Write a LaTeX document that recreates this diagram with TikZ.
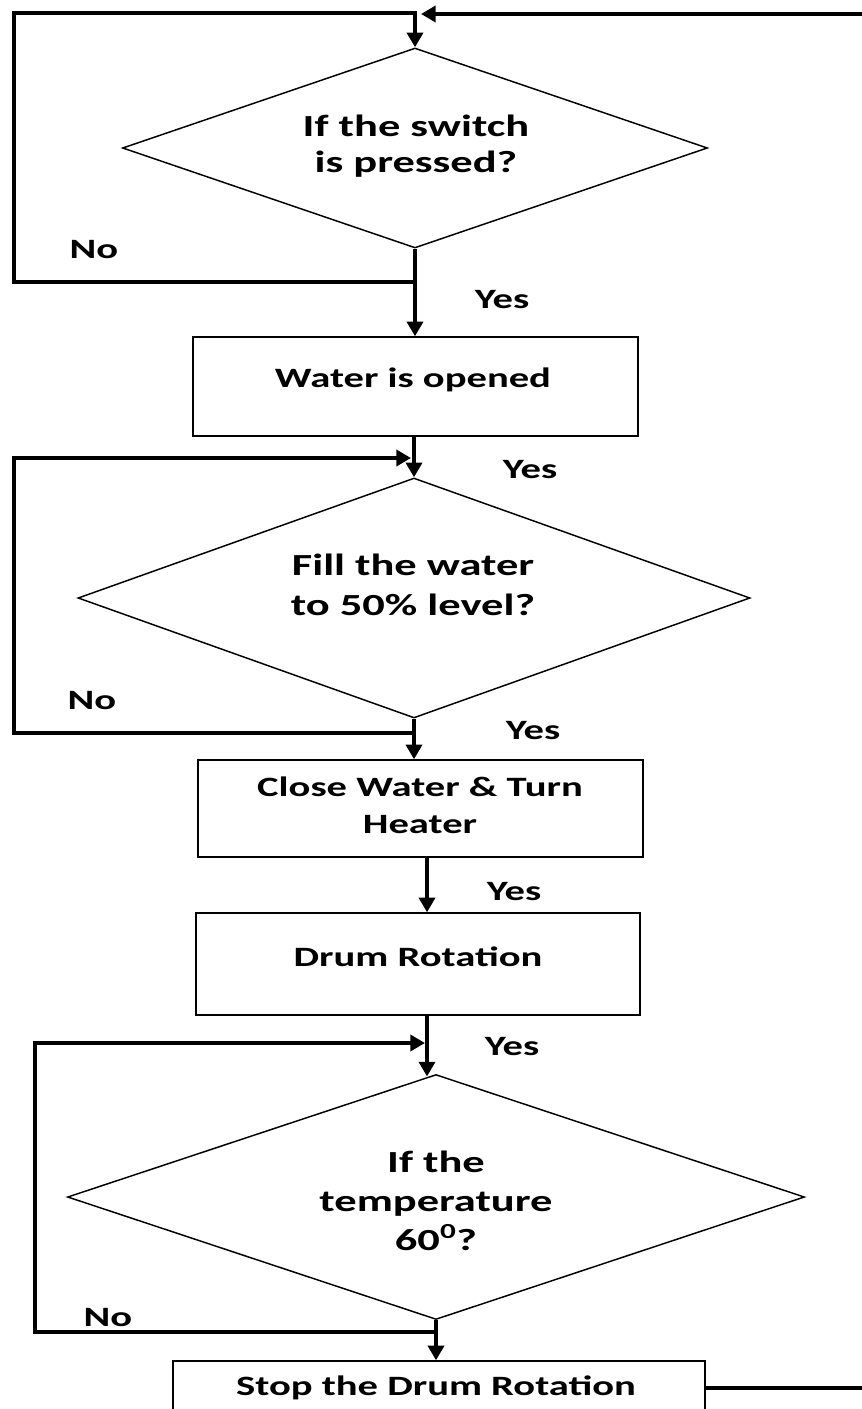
\documentclass[tikz,border=0pt]{standalone}
\usepackage{fontspec}
\newfontfamily\flowfont{Carlito}[FakeStretch=1.45]
\usetikzlibrary{shapes.geometric,arrows.meta}
\begin{document}
\begin{tikzpicture}[x=0.75pt,y=-0.75pt,
  wire/.style={line width=2.8pt},
  flow/.style={wire,-{Triangle[length=11pt,width=12pt]}},
  proc/.style={draw,line width=1.1pt,rectangle,inner sep=0pt},
  cond/.style={draw,line width=1.1pt,diamond,inner sep=0pt},
  txt/.style={align=center,inner sep=0pt,font=\flowfont\bfseries\fontsize{21}{26}\selectfont},
  ctxt/.style={align=center,inner sep=0pt,font=\flowfont\bfseries\fontsize{23}{26}\selectfont},
  lbl/.style={inner sep=0pt,font=\flowfont\bfseries\fontsize{21}{24}\selectfont}]
\useasboundingbox (0,0) rectangle (862,1409);

% shapes
\node[cond,minimum width=438.75pt,minimum height=150pt] (d1) at (415,148) {};
\node[proc,minimum width=333.75pt,minimum height=74.25pt] (b1) at (415.5,386.5) {};
\node[cond,minimum width=504pt,minimum height=180pt] (d2) at (414,598) {};
\node[proc,minimum width=333.75pt,minimum height=72.75pt] (b2) at (420.5,808.5) {};
\node[proc,minimum width=333pt,minimum height=76.5pt] (b3) at (418,964) {};
\node[cond,minimum width=552.75pt,minimum height=183.75pt] (d3) at (436,1197) {};
\node[proc,minimum width=399pt,minimum height=40.5pt] (b4) at (439,1388) {};

% texts
\node[ctxt] (d1t) at (416,146) {If the switch\\[1pt]is pressed?};
\node[txt] (b1t) at (413,380) {Water is opened};
\node[ctxt] (d2t) at (413,585) {Fill the water\\[4pt]to 50\% level?};
\node[txt] (b2t) at (420,805) {Close Water \& Turn\\[2pt]Heater};
\node[txt] (b3t) at (418,957) {Drum Rotation};
\node[ctxt] (d3t) at (436,1201) {If the\\[3pt]temperature\\[3pt]60\textsuperscript{0}?};
\node[txt] (b4t) at (436,1388) {Stop the Drum Rotation};

% branch labels
\node[lbl] (n1) at (94,250) {No};
\node[lbl] (n2) at (92,701) {No};
\node[lbl] (n3) at (108,1318) {No};
\node[lbl] (y1) at (502,300) {Yes};
\node[lbl] (y2) at (530,470) {Yes};
\node[lbl] (y3) at (533,731) {Yes};
\node[lbl] (y4) at (514,892) {Yes};
\node[lbl] (y5) at (512,1047) {Yes};

% loop corners
\coordinate (j1) at (415,282);
\coordinate (l1a) at (14,282);
\coordinate (l1b) at (14,13);
\coordinate (j2) at (414,733);
\coordinate (l2a) at (14,733);
\coordinate (l2b) at (14,458);
\coordinate (e2) at (411,458);
\coordinate (j3) at (436,1332);
\coordinate (l3a) at (35,1332);
\coordinate (l3b) at (35,1043);
\coordinate (e3) at (425,1043);
\coordinate (r1) at (880,1388);
\coordinate (r2) at (880,14);
\coordinate (e1) at (421,14);

% main flow
\draw[flow] (d1.south) -- (b1.north -| d1.south);
\draw[flow] (b1.south -| d2.north) -- (d2.north);
\draw[flow] (d2.south) -- (b2.north -| d2.south);
\draw[flow] ([xshift=4.9pt]b2.south) -- ([xshift=4.9pt]b2.south |- b3.north);
\draw[flow] ([xshift=6.75pt]b3.south) -- ([xshift=6.75pt,yshift=-2pt]b3.south |- d3.north);
\draw[flow] (d3.south) -- (b4.north -| d3.south);

% "No" loops
\draw[flow] (j1) -- (l1a) -- (l1b) -| (d1.north);
\draw[flow] (j2) -- (l2a) -- (l2b) -- (e2);
\draw[flow] (j3) -- (l3a) -- (l3b) -- (e3);

% return to the start
\draw[flow] (b4.east) -- (r1) -- (r2) -- (e1);
\end{tikzpicture}
\end{document}
